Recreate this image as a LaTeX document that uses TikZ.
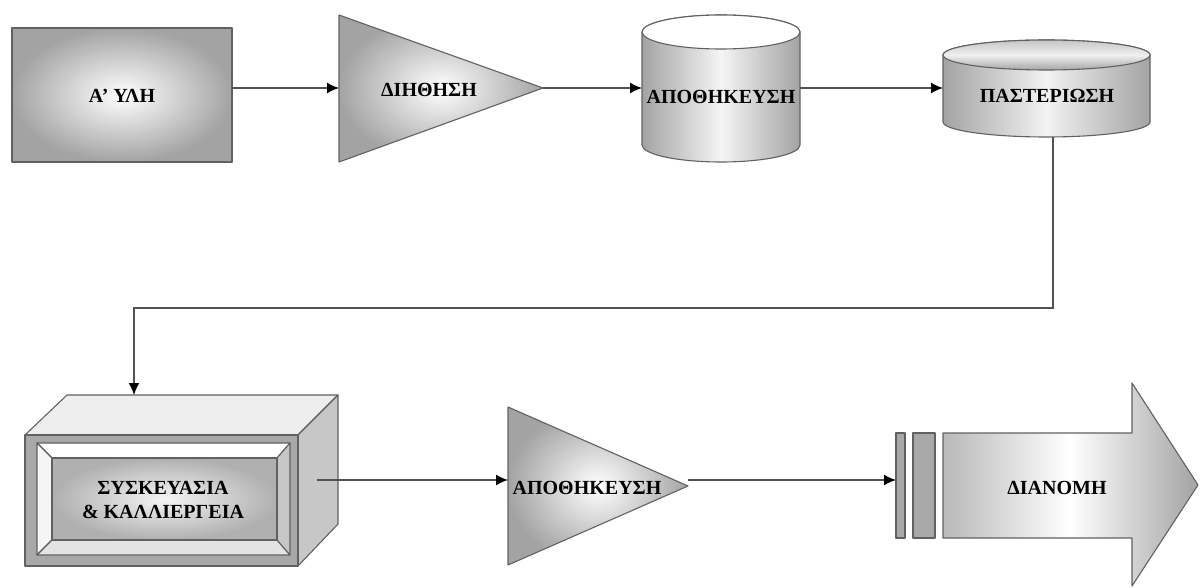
\documentclass[tikz,border=0pt]{standalone}
\usepackage{fontspec}
\setmainfont{Liberation Serif}
\usetikzlibrary{arrows.meta}
\definecolor{edge}{gray}{0.38}
\definecolor{shadeout}{gray}{0.64}
\definecolor{lineC}{gray}{0.32}
\definecolor{topface}{gray}{0.93}
\definecolor{sideface}{gray}{0.78}
\definecolor{frontface}{gray}{0.66}
\begin{document}
\begin{tikzpicture}[x=1pt,y=-1pt,
  outl/.style={draw=edge, line width=1.1pt, line join=round},
  conn/.style={draw=lineC, line width=1.4pt, -{Latex[length=12pt,width=11pt,fill=black,color=black]}},
  lbl/.style={font=\fontsize{20}{24}\selectfont\bfseries, text=black, inner sep=0pt, align=center}]
\useasboundingbox (0,0) rectangle (1200,588);

% ---------- Box 1: A' YLH
\path[outl, inner color=white, outer color=shadeout] (12,28) rectangle (232,162);
\node[lbl] (t1) at (122,96) {Α' ΥΛΗ};
\coordinate (b1out) at (232,88);

% ---------- Triangle 1: DIHTHSH
\path[outl, inner color=white, outer color=shadeout] (339,15) -- (543,88) -- (339,162) -- cycle;
\node[lbl] (t2) at (429,90) {ΔΙΗΘΗΣΗ};
\coordinate (tr1in) at (339,88);
\coordinate (tr1out) at (543,88);

% ---------- Cylinder 1: APOTHIKEYSH
\path[outl, left color=shadeout, right color=shadeout, middle color=gray!8]
  (642,32) -- (642,145) arc[start angle=180, end angle=360, x radius=79pt, y radius=17pt]
  -- (800,32) arc[start angle=0, end angle=180, x radius=79pt, y radius=17pt] -- cycle;
\path[outl, fill=white] (721,32) ellipse [x radius=79pt, y radius=17pt];
\node[lbl] (t3) at (721,97) {ΑΠΟΘΗΚΕΥΣΗ};
\coordinate (c1in) at (642,88);
\coordinate (c1out) at (800,88);

% ---------- Cylinder 2: PASTERIOSH
\path[outl, left color=shadeout, right color=shadeout, middle color=gray!10]
  (943,55) -- (943,122) arc[start angle=180, end angle=360, x radius=103.5pt, y radius=15pt]
  -- (1150,55) arc[start angle=0, end angle=180, x radius=103.5pt, y radius=15pt] -- cycle;
\path[outl, top color=gray!45, bottom color=gray!70, middle color=gray!12] (1046.5,55) ellipse [x radius=103.5pt, y radius=15pt];
\node[lbl] (t4) at (1047,96) {ΠΑΣΤΕΡΙΩΣΗ};
\coordinate (c2in) at (943,88);
\coordinate (c2out) at (1053,137);

% ---------- 3D box: SYSKEYASIA & KALLIERGEIA
\path[outl, fill=topface] (25,435) -- (67,395) -- (338,395) -- (298,435) -- cycle;
\path[outl, fill=sideface] (298,435) -- (338,395) -- (338,524) -- (298,566) -- cycle;
\path[outl, fill=frontface] (25,435) rectangle (298,566);
\path[outl, fill=white] (37,443) -- (290,443) -- (277,458) -- (52,458) -- cycle;
\path[outl, fill=gray!8] (37,443) -- (52,458) -- (52,540) -- (37,555) -- cycle;
\path[outl, fill=gray!22] (37,555) -- (52,540) -- (277,540) -- (290,555) -- cycle;
\path[outl, fill=gray!45] (290,443) -- (290,555) -- (277,540) -- (277,458) -- cycle;
\path[outl, inner color=gray!8, outer color=gray!62] (52,458) rectangle (277,540);
\node[lbl] (t5) at (163,500) {ΣΥΣΚΕΥΑΣΙΑ\\\& ΚΑΛΛΙΕΡΓΕΙΑ};
\coordinate (b3in) at (134,395);
\coordinate (b3out) at (317,480);

% ---------- Triangle 2: APOTHIKEYSH
\path[outl, inner color=white, outer color=shadeout] (508,407) -- (688,486) -- (508,565) -- cycle;
\node[lbl] (t6) at (587,488) {ΑΠΟΘΗΚΕΥΣΗ};
\coordinate (tr2in) at (508,480);
\coordinate (tr2out) at (688,480);

% ---------- Arrow: DIANOMH
\path[outl, fill=frontface] (896,433) rectangle (905,538);
\path[outl, fill=frontface] (913,433) rectangle (935,538);
\path[outl, left color=gray!55, right color=shadeout, middle color=white]
  (943,433) -- (1132,433) -- (1132,383) -- (1198,485) -- (1132,586) -- (1132,538) -- (943,538) -- cycle;
\node[lbl] (t7) at (1057,488) {ΔΙΑΝΟΜΗ};
\coordinate (arin) at (896,480);

% ---------- Connectors
\draw[conn] (b1out) -- (tr1in);
\draw[conn] (tr1out) -- (c1in);
\draw[conn] (c1out) -- (c2in);
\draw[conn] (c2out) -- ++(0,171) -| (b3in);
\draw[conn] (b3out) -- (tr2in);
\draw[conn] (tr2out) -- (arin);
\end{tikzpicture}
\end{document}
